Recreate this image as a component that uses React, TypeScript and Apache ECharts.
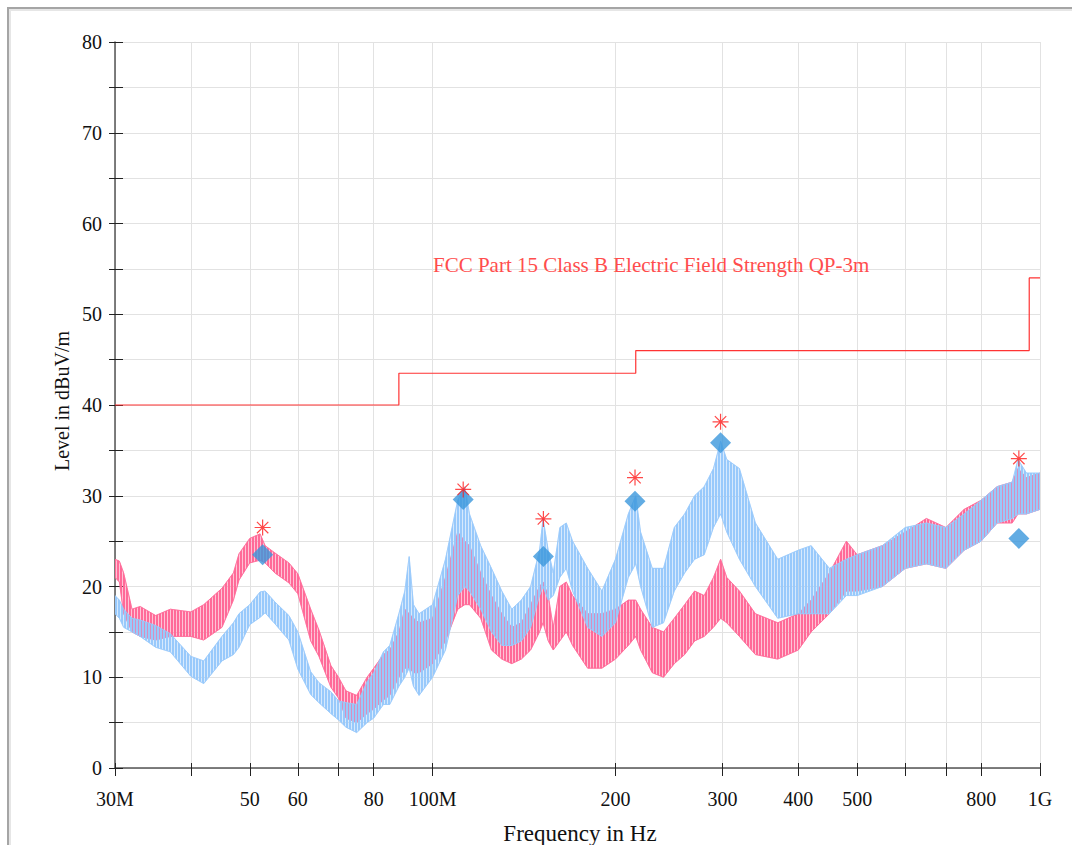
import React, { useEffect, useRef } from 'react';
import * as echarts from 'echarts';

// Frequencies in MHz
const FREQ = [30, 30.5, 31, 32, 33, 35, 37, 40, 42, 45, 47, 48, 50, 52, 53, 55, 58, 60, 63, 65, 68, 70, 72, 75, 78, 80, 83, 85, 88, 90, 91.5, 93, 95, 100, 105, 110, 113, 115, 120, 125, 130, 135, 140, 145, 150, 152, 155, 158, 162, 166, 170, 180, 190, 200, 210, 216, 220, 230, 240, 250, 260, 270, 280, 290, 298, 305, 320, 340, 370, 400, 420, 450, 480, 500, 550, 600, 650, 700, 750, 800, 850, 900, 920, 950, 1000];

const PINK_LO = [21, 20.5, 17, 15, 14.5, 14.1, 14.5, 14.5, 14.1, 15.5, 18.5, 20.7, 22.6, 22.9, 22.6, 21.5, 20.4, 19.2, 14, 12.3, 8.9, 7.7, 5.5, 5, 6, 6.5, 7.5, 8, 10, 11, 11, 10.5, 10.5, 11.5, 14, 17.5, 18, 18, 16.5, 13, 12, 11.5, 12, 13, 15, 16, 14, 13, 14, 15, 13.5, 11, 11, 12, 13.5, 14.5, 13, 10.5, 10, 11.5, 12.5, 14, 14.5, 15.5, 16.5, 16, 14.5, 12.5, 12, 13, 15, 17, 19.5, 19.5, 20, 22, 22.5, 22, 24, 25, 27, 27, 28, 28, 28.5];
const PINK_HI = [23, 22.8, 21.5, 17.5, 17.8, 16.8, 17.5, 17.2, 18, 19.8, 21.5, 23.6, 25.3, 25.8, 24.5, 23.7, 22.6, 21.4, 17.5, 15.2, 11.3, 10, 8.5, 8, 10, 11, 12.5, 13, 15, 17.5, 17, 16.5, 16, 16.5, 21, 26, 25, 24.5, 21.5, 19, 17, 15.5, 16, 18, 20, 20.5, 19, 15.5, 20, 20.5, 19, 17, 17, 17.5, 18.5, 18.5, 17.5, 15.5, 15, 16.5, 18, 19.5, 19, 21, 23, 21, 19.5, 17, 16, 17, 18.5, 21.5, 25, 23.5, 24.5, 26, 27.5, 26.5, 28.5, 29.5, 31, 31.5, 33, 32, 32.5];

const BLUE_LO = [17, 16.5, 15.5, 15, 14.5, 13.3, 12.8, 10.1, 9.3, 11.8, 12.5, 13.3, 15.8, 16.6, 17.1, 15.9, 14.1, 10.9, 8.1, 7.2, 6, 5.3, 4.5, 3.9, 5, 5.5, 7, 7, 9, 10, 11, 9, 8, 10, 13, 19, 20, 19.5, 17.5, 15, 13.5, 13.5, 14, 15.5, 19, 20, 18.5, 19, 21, 22, 19.5, 15.5, 14.5, 16, 21, 22.5, 20, 15.5, 16, 19.5, 21.5, 23, 23.5, 26.5, 28, 26, 23, 20, 16.5, 17, 17, 17, 19, 19, 20, 22, 22.5, 22, 24, 25, 27, 27.5, 28, 28, 28.5];
const BLUE_HI = [19, 18.5, 17.5, 16.5, 16.3, 15.7, 14.8, 12.3, 11.8, 14.5, 16, 17, 18, 19.4, 19.5, 18.3, 16.8, 15, 10.6, 9.4, 8.4, 7.4, 7.2, 7, 9.5, 10.5, 12.8, 13.5, 17, 19.5, 23.3, 18, 17, 18, 23, 29.5, 31, 28, 24.5, 22, 19.5, 17.5, 18.5, 20, 24, 27.5, 24, 21.5, 26.5, 27, 25, 22, 19.5, 23, 28, 30, 26, 22, 22, 26.5, 28, 30, 31, 33, 36, 34, 33, 27, 23, 24, 24.5, 22, 23, 23.5, 24.5, 26.5, 27, 26.5, 28, 29.5, 31, 31.5, 34, 32.5, 32.5];

// FCC Part 15 Class B limit (QP, 3m)
const LIMIT_FREQ = [30, 88, 88, 216, 216, 960, 960, 1000];
const LIMIT_LEVEL = [40, 40, 43.5, 43.5, 46, 46, 54, 54];

// Peak markers
const PEAK_FREQ = [52.5, 112.3, 152.2, 215.4, 297.9, 923];
const PEAK_LEVEL = [26.5, 30.7, 27.45, 32.0, 38.15, 34.1];
const QP_LEVEL = [23.5, 29.6, 23.3, 29.4, 35.85, 25.3];

const X_TICKS = [30, 40, 50, 60, 70, 80, 100, 200, 300, 400, 500, 600, 700, 800, 1000];
const X_LABEL_VALUES = [30, 50, 60, 80, 100, 200, 300, 400, 500, 800, 1000];
const X_LABEL_TEXT = ['30M', '50', '60', '80', '100M', '200', '300', '400', '500', '800', '1G'];

const FONT = 'Liberation Serif';

function stripePattern(color: string, offset: number) {
  const c = document.createElement('canvas');
  c.width = 3;
  c.height = 4;
  const ctx = c.getContext('2d')!;
  ctx.fillStyle = color;
  ctx.fillRect(offset, 0, 2, 4);
  if (offset + 2 > 3) ctx.fillRect(0, 0, offset + 2 - 3, 4);
  return { image: c, repeat: 'repeat', imageWidth: 3, imageHeight: 4 };
}

function bandSeries(name: string, lo: number[], hi: number[], color: string, offset: number, z: number) {
  return {
    type: 'custom',
    name,
    z,
    clip: true,
    silent: true,
    data: FREQ.map((f, i) => [f, lo[i], hi[i]]),
    encode: { x: 0, y: [1, 2] },
    renderItem: (params: any, api: any) => {
      if (params.dataIndex !== 0) return null;
      const pts: number[][] = [];
      for (let i = 0; i < FREQ.length; i++) pts.push(api.coord([FREQ[i], hi[i]]));
      for (let i = FREQ.length - 1; i >= 0; i--) pts.push(api.coord([FREQ[i], lo[i]]));
      return {
        type: 'group',
        children: [
          {
            type: 'polygon',
            shape: { points: pts },
            style: { fill: color, stroke: color, lineWidth: 1, opacity: 0.4 },
          },
          {
            type: 'polygon',
            shape: { points: pts },
            style: { fill: stripePattern(color, offset), stroke: color, lineWidth: 0.8 },
          },
        ],
      };
    },
  };
}

export default function App() {
  const ref = useRef<HTMLDivElement>(null);
  useEffect(() => {
    const chart = echarts.init(ref.current!, null, { renderer: 'svg' });
    const option: any = {
      animation: false,
      backgroundColor: '#ffffff',
      textStyle: { fontFamily: FONT },
      grid: { left: 115, right: 32, top: 42, bottom: 77 },
      xAxis: [
        {
          type: 'log',
          logBase: 10,
          min: 30,
          max: 1000,
          position: 'bottom',
          axisLine: { show: true, onZero: false, lineStyle: { color: '#555', width: 1.5 } },
          axisTick: { show: true, inside: false, length: 8, customValues: X_TICKS, lineStyle: { color: '#222', width: 1 } },
          minorTick: { show: false },
          axisLabel: {
            customValues: X_LABEL_VALUES,
            margin: 21,
            fontFamily: FONT,
            fontSize: 20,
            color: '#111',
            formatter: (v: number) => {
              const idx = X_LABEL_VALUES.findIndex((x) => Math.abs(x - v) < 0.01 * x);
              return idx >= 0 ? X_LABEL_TEXT[idx] : '';
            },
          },
          splitLine: { show: true, lineStyle: { color: '#e2e2e2', width: 1 } },
        },
        {
          type: 'log',
          logBase: 10,
          min: 30,
          max: 1000,
          position: 'bottom',
          axisLine: { show: false, onZero: false },
          axisTick: { show: true, inside: true, length: 5, customValues: X_TICKS, lineStyle: { color: '#222', width: 1 } },
          axisLabel: { show: false },
          splitLine: { show: false },
        },
      ],
      yAxis: [
        {
          type: 'value',
          min: 0,
          max: 80,
          interval: 5,
          axisLine: { show: true, onZero: false, lineStyle: { color: '#555', width: 1.5 } },
          axisTick: { show: true, inside: false, length: 6, lineStyle: { color: '#222', width: 1 } },
          axisLabel: {
            margin: 13,
            fontFamily: FONT,
            fontSize: 20,
            color: '#111',
            padding: [8, 0, 0, 0],
            formatter: (v: number) => (v % 10 === 0 ? String(v) : ''),
          },
          splitLine: { show: true, lineStyle: { color: '#e2e2e2', width: 1 } },
        },
        {
          type: 'value',
          min: 0,
          max: 80,
          interval: 5,
          position: 'left',
          axisLine: { show: false, onZero: false },
          axisTick: { show: true, inside: true, length: 8, lineStyle: { color: '#222', width: 1 } },
          axisLabel: { show: false },
          splitLine: { show: false },
        },
      ],
      graphic: [
        { type: 'rect', shape: { x: 7, y: 7, width: 1072, height: 2 }, style: { fill: '#a5a5a5' }, silent: true },
        { type: 'rect', shape: { x: 7, y: 7, width: 2, height: 845 }, style: { fill: '#a5a5a5' }, silent: true },
        { type: 'rect', shape: { x: 9, y: 9, width: 1072, height: 2 }, style: { fill: '#e6e6e6' }, silent: true },
        { type: 'rect', shape: { x: 9, y: 9, width: 2, height: 845 }, style: { fill: '#e6e6e6' }, silent: true },
        {
          type: 'text',
          x: 433,
          y: 265,
          style: {
            text: 'FCC Part 15 Class B Electric Field Strength QP-3m',
            fill: '#ff4d4d',
            font: `21px ${FONT}`,
            align: 'left',
            verticalAlign: 'middle',
          },
          z: 10,
        },
        {
          type: 'text',
          x: 580,
          y: 833,
          style: {
            text: 'Frequency in Hz',
            fill: '#111',
            font: `23px ${FONT}`,
            align: 'center',
            verticalAlign: 'middle',
          },
        },
        {
          type: 'text',
          x: 62,
          y: 401,
          rotation: Math.PI / 2,
          style: {
            text: 'Level in dBuV/m',
            fill: '#111',
            font: `20px ${FONT}`,
            align: 'center',
            verticalAlign: 'middle',
          },
        },
      ],
      series: [
        bandSeries('Peak H', PINK_LO, PINK_HI, '#ff6a98', 0, 2),
        bandSeries('Peak V', BLUE_LO, BLUE_HI, '#98c9fb', 1, 3),
        {
          type: 'line',
          name: 'Limit',
          z: 10,
          color: '#ff3333',
          data: LIMIT_FREQ.map((f, i) => [f, LIMIT_LEVEL[i]]),
          showSymbol: false,
          symbol: 'none',
          lineStyle: { color: '#ff3333', width: 1.2 },
          silent: true,
        },
        {
          type: 'scatter',
          name: 'QP',
          z: 11,
          data: PEAK_FREQ.map((f, i) => [f, QP_LEVEL[i]]),
          symbol: 'diamond',
          symbolSize: [21, 21],
          itemStyle: { color: '#3b97dc' },
          silent: true,
        },
        {
          type: 'scatter',
          name: 'Peak',
          z: 12,
          data: PEAK_FREQ.map((f, i) => [f, PEAK_LEVEL[i]]),
          symbol: 'path://M0,8L16,8M8,0L8,16M2.3,2.3L13.7,13.7M13.7,2.3L2.3,13.7',
          symbolSize: 16,
          itemStyle: { color: 'none', borderColor: '#ff1a1a', borderWidth: 1.2 },
          silent: true,
        },
      ],
    };
    chart.setOption(option);
    return () => chart.dispose();
  }, []);
  return <div ref={ref} style={{ position: 'fixed', left: 0, top: 0, width: 1072, height: 845 }} />;
}
